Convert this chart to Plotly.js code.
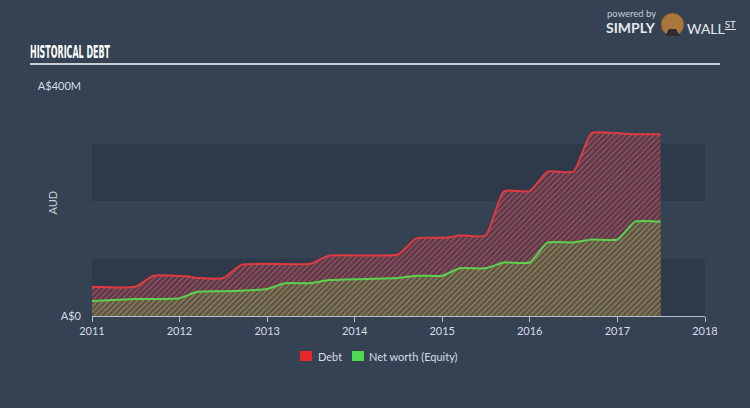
<!DOCTYPE html>
<html>
<head>
<meta charset="utf-8">
<script src="https://cdn.plot.ly/plotly-3.0.1.min.js"></script>
<style>
html,body{margin:0;padding:0;background:#344254;}
#wrap{position:relative;width:750px;height:408px;}
#chart{width:750px;height:408px;}
#title{position:absolute;left:30px;top:42px;font-family:"DejaVu Sans Condensed","Liberation Sans",sans-serif;font-weight:bold;font-size:17px;color:#ffffff;transform:scaleX(0.52);transform-origin:left top;white-space:nowrap;}
</style>
</head>
<body>
<div id="wrap">
<div id="chart"></div>
<div id="title">HISTORICAL DEBT</div>
</div>
<script>
// Debt (A$M)
const debtDates = ['2011-01-01','2011-07-01','2011-09-15','2012-02-01','2012-03-15','2012-07-01','2012-09-15','2013-07-01','2013-09-15','2014-07-01','2014-09-15','2015-01-15','2015-03-15','2015-07-01','2015-09-15','2016-01-01','2016-03-15','2016-07-01','2016-09-15','2017-01-01','2017-03-15','2017-06-30'];
const debtValues = [51,51,70,69,66,66,89,91,105,107,135,136,140,140,217,217,251,251,318,318,316,316];
// Net worth (Equity) (A$M)
const equityDates = ['2011-01-01','2011-07-01','2012-01-01','2012-03-15','2012-07-01','2013-01-01','2013-03-15','2013-07-01','2013-09-15','2014-07-01','2014-09-15','2015-01-01','2015-03-15','2015-07-01','2015-09-15','2016-01-01','2016-03-15','2016-07-01','2016-09-15','2017-01-01','2017-03-15','2017-06-30'];
const equityValues = [26,29.5,31,42,43,47,57,57,62.5,66,70,70,83,83,93,93,127.5,128,133,133,164,164];
const yTickVals = [0,400];
const yTickText = ['A$0','A$400M'];
const xTickVals = ['2011-01-01','2012-01-01','2013-01-01','2014-01-01','2015-01-01','2016-01-01','2017-01-01','2018-01-01'];
const xTickText = ['2011','2012','2013','2014','2015','2016','2017','2018'];
const bandRanges = [[0,100],[200,300]];
const legendNames = ['Debt','Net worth (Equity)'];
const legendColors = ['#e8262b','#4fd94f'];

const font = 'Lato, "Open Sans", sans-serif';

const traces = [
  {
    x: debtDates, y: debtValues, type: 'scatter', mode: 'lines', name: legendNames[0],
    line: {color: '#e23a3e', width: 2, shape: 'spline', smoothing: 0.5},
    fill: 'tozeroy', fillcolor: '#5e3a49',
    fillpattern: {shape: '/', bgcolor: '#5a3846', fgcolor: '#955464', size: 4, solidity: 0.35},
    showlegend: false, hoverinfo: 'skip'
  },
  {
    x: equityDates, y: equityValues, type: 'scatter', mode: 'lines', name: legendNames[1],
    line: {color: '#5cd24c', width: 2, shape: 'spline', smoothing: 0.5},
    fill: 'tozeroy', fillcolor: '#5f5843',
    fillpattern: {shape: '/', bgcolor: '#5b5441', fgcolor: '#8f8360', size: 4, solidity: 0.35},
    showlegend: false, hoverinfo: 'skip'
  }
];

// pixel -> paper helpers (plot area x 92..705, y 316..86)
const px = v => (v - 92) / 613;
const py = v => (316 - v) / 230;

const shapes = bandRanges.map(r => ({
  type: 'rect', xref: 'paper', yref: 'y', x0: 0, x1: 1, y0: r[0], y1: r[1],
  fillcolor: '#2e3a4a', line: {width: 0}, layer: 'below'
}));
shapes.push({type: 'line', xref: 'paper', yref: 'paper', x0: px(30), x1: px(720), y0: py(64), y1: py(64),
  line: {color: '#c8ced6', width: 2}});
// legend swatches
shapes.push({type: 'rect', xref: 'paper', yref: 'paper', x0: px(300), x1: px(312), y0: py(361), y1: py(351),
  fillcolor: legendColors[0], line: {width: 0}});
shapes.push({type: 'rect', xref: 'paper', yref: 'paper', x0: px(352), x1: px(364), y0: py(361), y1: py(351),
  fillcolor: legendColors[1], line: {width: 0}});
// logo bull
shapes.push({type: 'circle', xref: 'paper', yref: 'paper', x0: px(661), x1: px(684), y0: py(36), y1: py(13),
  fillcolor: '#a9773d', line: {color: '#7a5326', width: 1}});
shapes.push({type: 'path', xref: 'paper', yref: 'paper',
  path: `M ${px(665)} ${py(36)} L ${px(680)} ${py(36)} L ${px(676)} ${py(29)} L ${px(669)} ${py(29)} Z`,
  fillcolor: '#2c2c34', line: {width: 0}});

const layout = {
  width: 750, height: 408,
  paper_bgcolor: '#344254', plot_bgcolor: 'rgba(0,0,0,0)',
  margin: {l: 92, r: 45, t: 86, b: 92},
  font: {family: font, color: '#d3d8de', size: 11},
  showlegend: false,
  xaxis: {
    type: 'date', range: ['2011-01-01','2018-01-01'],
    tickvals: xTickVals, ticktext: xTickText,
    showgrid: false, zeroline: false,
    showline: true, linecolor: '#b8bfc8', linewidth: 1,
    ticks: 'outside', ticklen: 5, tickcolor: '#b8bfc8',
    tickfont: {family: font, size: 11, color: '#d8dce2'}
  },
  yaxis: {
    range: [0, 400], tickvals: yTickVals, ticktext: yTickText,
    showgrid: false, zeroline: false, showline: false, ticks: '',
    ticklabelstandoff: 10,
    tickfont: {family: font, size: 11, color: '#d8dce2'}
  },
  shapes: shapes,
  annotations: [
    {text: 'AUD', xref: 'paper', yref: 'paper', x: px(43), y: py(203), textangle: -90, showarrow: false,
     font: {family: font, size: 11, color: '#c8cdd4'}},
    {text: legendNames[0], xref: 'paper', yref: 'paper', x: px(316), y: py(356), xanchor: 'left', yanchor: 'middle',
     showarrow: false, font: {family: font, size: 11, color: '#d8dce2'}},
    {text: legendNames[1], xref: 'paper', yref: 'paper', x: px(367), y: py(356), xanchor: 'left', yanchor: 'middle',
     showarrow: false, font: {family: font, size: 11, color: '#d8dce2'}},
    {text: 'powered by', xref: 'paper', yref: 'paper', x: px(605), y: py(13), xanchor: 'left', yanchor: 'middle',
     showarrow: false, font: {family: font, size: 9.5, color: '#c8cdd4'}},
    {text: '<b>SIMPLY</b>', xref: 'paper', yref: 'paper', x: px(604), y: py(28), xanchor: 'left', yanchor: 'middle',
     showarrow: false, font: {family: font, size: 14, color: '#e6e9ed'}},
    {text: 'WALL<sup><u>ST</u></sup>', xref: 'paper', yref: 'paper', x: px(685), y: py(28), xanchor: 'left', yanchor: 'middle',
     showarrow: false, font: {family: font, size: 14, color: '#e6e9ed'}}
  ]
};

Plotly.newPlot('chart', traces, layout, {displayModeBar: false, staticPlot: true});
</script>
</body>
</html>
